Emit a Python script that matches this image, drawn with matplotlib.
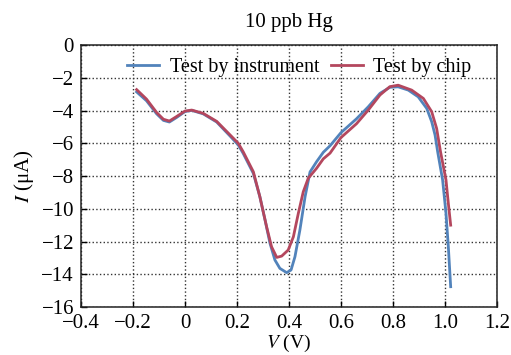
import matplotlib
matplotlib.use("Agg")
import matplotlib.pyplot as plt

# datos (V en volt, I en uA)
v_inst = [-0.186, -0.148, -0.109, -0.083, -0.060, -0.032, 0.000, 0.026, 0.070, 0.122,
          0.173, 0.205, 0.224, 0.263, 0.288, 0.308, 0.327, 0.346, 0.365, 0.391,
          0.408, 0.423, 0.442, 0.462, 0.481, 0.506, 0.532, 0.558, 0.600, 0.660,
          0.705, 0.750, 0.788, 0.820, 0.859, 0.897, 0.930, 0.949, 0.962, 0.972,
          0.991, 1.004, 1.013, 1.022]
i_inst = [-2.86, -3.40, -4.20, -4.60, -4.70, -4.42, -4.06, -3.99, -4.20, -4.70,
          -5.55, -6.10, -6.62, -7.84, -9.26, -10.69, -12.11, -13.13, -13.64, -13.90,
          -13.74, -12.93, -11.30, -9.26, -7.75, -7.13, -6.55, -6.15, -5.35, -4.50,
          -3.77, -2.95, -2.58, -2.55, -2.75, -3.16, -3.87, -4.68, -5.50, -6.52,
          -8.24, -10.28, -12.32, -14.76]

v_chip = [-0.186, -0.148, -0.109, -0.083, -0.060, -0.032, 0.000, 0.026, 0.070, 0.122,
          0.173, 0.205, 0.224, 0.263, 0.288, 0.314, 0.333, 0.353, 0.372, 0.397,
          0.417, 0.436, 0.455, 0.474, 0.506, 0.532, 0.558, 0.600, 0.660, 0.705,
          0.750, 0.788, 0.820, 0.872, 0.917, 0.949, 0.968, 0.983, 1.004, 1.013,
          1.022]
i_chip = [-2.72, -3.30, -4.12, -4.53, -4.64, -4.36, -4.03, -3.97, -4.17, -4.66,
          -5.48, -6.00, -6.52, -7.74, -9.26, -11.10, -12.32, -12.97, -12.89, -12.52,
          -11.71, -10.28, -8.96, -8.14, -7.53, -6.95, -6.60, -5.65, -4.80, -3.97,
          -3.05, -2.54, -2.45, -2.75, -3.26, -4.07, -5.09, -6.52, -8.24, -9.67,
          -11.00]

x_ticks = [-0.4, -0.2, 0, 0.2, 0.4, 0.6, 0.8, 1.0, 1.2]
x_labels = ['\u22120.4', '\u22120.2', '0', '0.2', '0.4', '0.6', '0.8', '1.0', '1.2']
y_ticks = list(range(-16, 1, 2))

plt.rcParams['font.family'] = ['Liberation Serif', 'DejaVu Serif']
plt.rcParams['mathtext.fontset'] = 'stix'
plt.rcParams['font.size'] = 15

fig = plt.figure(figsize=(5.11, 3.55), dpi=100)
ax = fig.add_axes([0.1585, 0.1352, 0.814, 0.7378])

ax.plot(v_inst, i_inst, color='#5283bb', lw=2, label='Test by instrument')
ax.plot(v_chip, i_chip, color='#b4475e', lw=2, label='Test by chip')

ax.set_xlim(-0.4, 1.2)
ax.set_ylim(-16, 0)
ax.set_xticks(x_ticks)
ax.set_xticklabels(x_labels)
ax.set_yticks(y_ticks)

# rejilla punteada
ax.grid(True, linestyle=':', color='#333333', lw=1)
ax.tick_params(direction='in', length=4, width=1)
ax.tick_params(axis='x', pad=5)
ax.tick_params(axis='y', pad=5)
for s in ax.spines.values():
    s.set_linewidth(1.1)
    s.set_color('#222222')

ax.set_xlabel('$V$ (V)', labelpad=0, fontsize=14)
ax.set_ylabel('$I$ (\u03bcA)', labelpad=4)
ax.set_title('10 ppb Hg', fontsize=15, pad=13)

ax.legend(loc='upper center', bbox_to_anchor=(0.525, 1.02), ncol=2, frameon=False,
          handlelength=1.6, columnspacing=0.6, handletextpad=0.5, fontsize=14.5)

fig.savefig('out.png', dpi=100)
